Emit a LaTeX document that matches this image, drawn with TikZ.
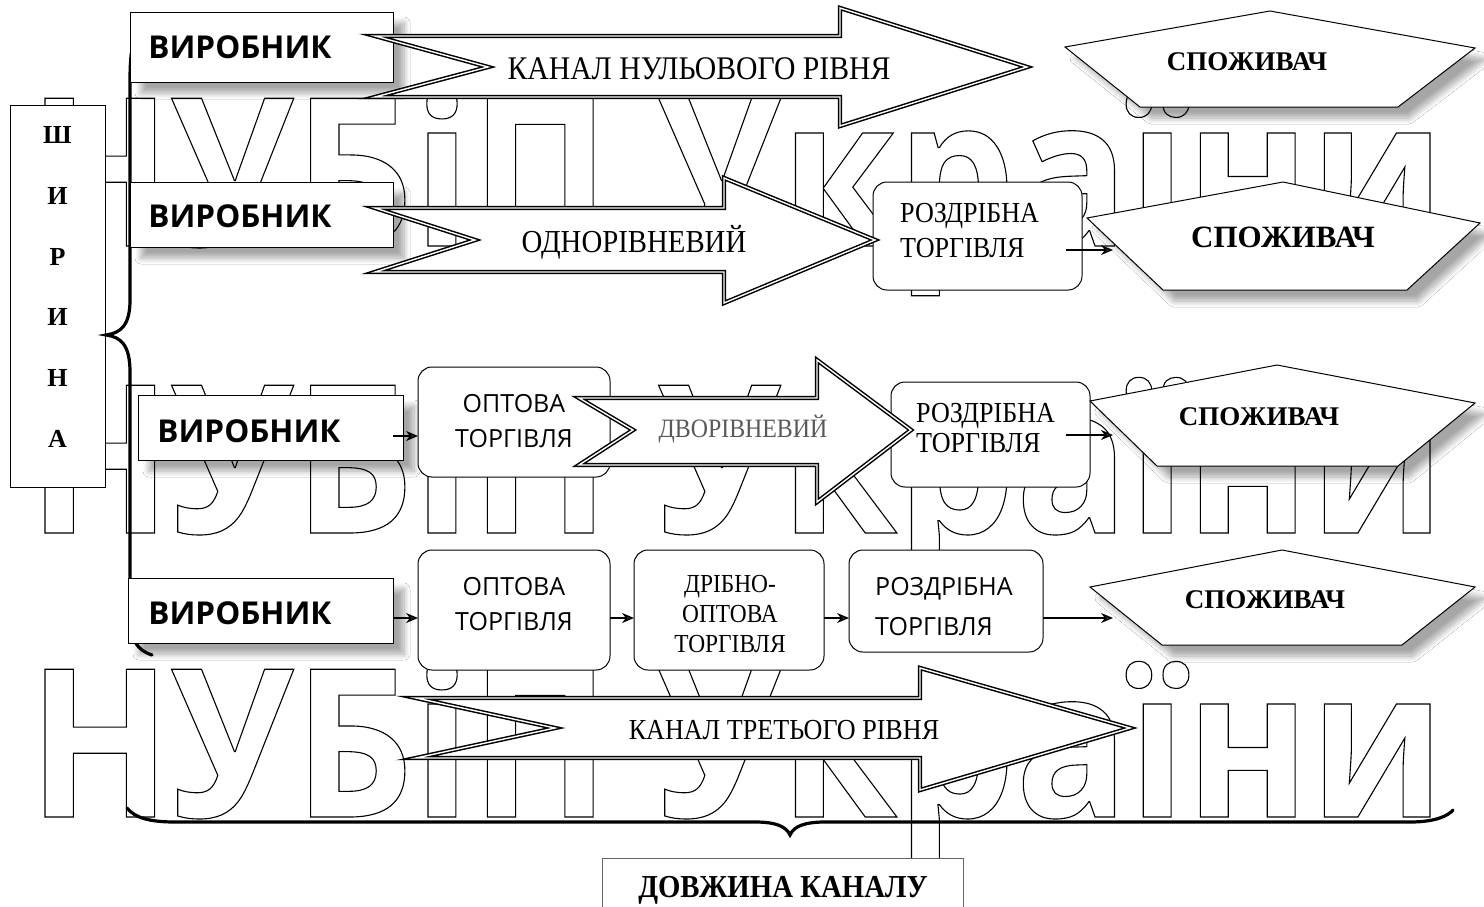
\documentclass[tikz,border=0pt]{standalone}
\usepackage{fontspec}
\setmainfont{Liberation Serif}
\newfontfamily\osans{Open Sans}
\newfontfamily\wmfont[FakeStretch=0.905]{Open Sans}
\newfontfamily\cser[FakeStretch=0.9]{Liberation Serif}
\usetikzlibrary{arrows.meta,shadows.blur}
\newcommand\fsz[1]{\fontsize{#1}{#1}\selectfont}
\newcommand\wmtext{\special{pdf:literal direct 1 Tr 1.1 w}НУБіП України\special{pdf:literal direct 0 Tr}}
\tikzset{
  sh/.style={blur shadow={shadow xshift=11pt, shadow yshift=-11pt, shadow blur radius=6pt, shadow blur steps=10, shadow opacity=35}},
  prod/.style={draw, fill=white, line width=1pt, inner sep=0pt, outer sep=0pt, sh},
  rbox/.style={draw, fill=white, line width=1pt, rounded corners=14pt, inner sep=0pt, outer sep=0pt},
  plainbox/.style={draw, fill=white, line width=1pt, inner sep=0pt, outer sep=0pt},
  pent/.style={draw, fill=white, line width=1pt, line join=miter, sh},
  barrow/.style={draw=black, fill=white, line width=1.5pt, double=white, double distance=1.4pt, line join=miter, miter limit=30},
  conn/.style={-{Stealth[length=12pt,width=10pt]}, line width=1.3pt},
  brace/.style={line width=3.2pt, line cap=round},
  txt/.style={inner sep=0pt, anchor=base},
  txl/.style={inner sep=0pt, anchor=base west},
  wm/.style={inner sep=0pt, anchor=base west, font=\wmfont\bfseries\fsz{207}},
  vtext/.style={txt, font=\osans\bfseries\fsz{31.5}},
  sertext/.style={txt, font=\cser\fsz{#1}},
  serl/.style={txl, font=\cser\fsz{#1}},
  sanstext/.style={txt, font=\osans\fsz{#1}},
  sansl/.style={txl, font=\osans\fsz{#1}},
  boldser/.style={txt, font=\bfseries\fsz{#1}},
}
\begin{document}
\begin{tikzpicture}[x=1pt, y=-1pt]
\useasboundingbox[fill=white] (0,0) rectangle (1484,906);

% watermark
\node[wm] (wm1) at (28,246) {\wmtext};
\node[wm] (wm2) at (28,533) {\wmtext};
\node[wm] (wm3) at (28,817) {\wmtext};

% width box
\node[plainbox, minimum width=95pt, minimum height=382pt] (shyr) at (57.5,296) {};
\foreach \l/\yy [count=\i] in {Ш/143, И/204, Р/265, И/325, Н/386, А/447}
  \node[boldser=26] (shl\i) at (57.5,\yy) {\l};

% left brace
\draw[brace] (152,20) .. controls (136,26) and (130,40) .. (130,80) -- (130,300)
  .. controls (130,325) and (121,333) .. (106,335) .. controls (121,337) and (130,345) .. (130,372)
  -- (130,615) .. controls (130,640) and (137,650) .. (152,655);

% producer boxes
\node[prod, minimum width=263pt, minimum height=70pt] (v1) at (261.5,47) {};
\node[prod, minimum width=263pt, minimum height=65pt] (v2) at (261.5,214.5) {};
\node[prod, minimum width=265pt, minimum height=65pt] (v3) at (270.5,427.5) {};
\node[prod, minimum width=265pt, minimum height=65pt] (v4) at (260.5,610.5) {};

% rounded boxes
\node[rbox, minimum width=209pt, minimum height=108pt] (r1) at (977.5,236) {};
\node[rbox, minimum width=192pt, minimum height=110pt] (o3) at (514,422) {};
\node[rbox, minimum width=199pt, minimum height=105pt] (r2) at (990.5,434.5) {};
\node[rbox, minimum width=192pt, minimum height=120pt] (o4) at (514,610) {};
\node[rbox, minimum width=190pt, minimum height=120pt] (d4) at (729,610) {};
\node[rbox, minimum width=194pt, minimum height=102pt] (r3) at (946,601) {};

% consumers (pentagons)
\draw[pent] (1270,11) coordinate (p1t) -- (1475,48) -- (1398,107) -- (1140,107) -- (1065,47) coordinate (p1l) -- cycle;
\draw[pent] (1283,182) coordinate (p2t) -- (1480,223) -- (1407,290) -- (1163,290) -- (1087,218) coordinate (p2l) -- cycle;
\draw[pent] (1277,365) coordinate (p3t) -- (1475,403) -- (1398,466) -- (1157,466) -- (1090,401) coordinate (p3l) -- cycle;
\draw[pent] (1282,550) coordinate (p4t) -- (1475,587) -- (1402,645) -- (1162,645) -- (1090,587) coordinate (p4l) -- cycle;

% block arrows
\draw[barrow] (375,36) -- (840,36) -- (840,8) -- (1027,67) -- (840,126) -- (840,97) -- (375,97) -- (488,67) -- cycle;
\draw[barrow] (375,208) -- (724,208) -- (724,178) -- (875,240) -- (724,303) -- (724,272) -- (375,272) -- (475,240) -- cycle;
\draw[barrow] (579,398) -- (817,398) -- (817,360) -- (911,430) -- (817,502) -- (817,465) -- (579,465) -- (633,430) -- cycle;
\draw[barrow] (416,698) -- (920,698) -- (920,668) -- (1130,728) -- (920,790) -- (920,758) -- (416,758) -- (555,728) -- cycle;

% connectors
\coordinate (c1) at (1066,250);
\coordinate (p2a) at (1113,250);
\coordinate (c2) at (1066,435);
\coordinate (p3a) at (1113,435);
\coordinate (p4a) at (1113,618);
\draw[conn] (c1) -- (p2a);
\draw[conn] (c2) -- (p3a);
\draw[conn] ([xshift=-10pt,yshift=-8.5pt]v3.east) -- ([yshift=-14pt]o3.west);
\draw[conn] ([yshift=-7.5pt]v4.east) -- ([yshift=-8pt]o4.west);
\draw[conn] ([yshift=-8pt]o4.east) -- ([yshift=-8pt]d4.west);
\draw[conn] ([yshift=-8pt]d4.east) -- ([yshift=-17pt]r3.west);
\draw[conn] ([yshift=-17pt]r3.east) -- (p4a);

% texts
\node[vtext] (tv1) at (240,58.5) {ВИРОБНИК};
\node[vtext] (tv2) at (240,227.5) {ВИРОБНИК};
\node[vtext] (tv3) at (249,442.5) {ВИРОБНИК};
\node[vtext] (tv4) at (240,624.5) {ВИРОБНИК};

\node[sertext=33] (ta1) at (699,79) {КАНАЛ НУЛЬОВОГО РІВНЯ};
\node[sertext=32] (ta2) at (634,252) {ОДНОРІВНЕВИЙ};
\node[sertext=26.5, text=black!65] (ta3) at (743,437) {ДВОРІВНЕВИЙ};
\node[sertext=29] (ta4) at (784,739) {КАНАЛ ТРЕТЬОГО РІВНЯ};

\node[serl=29] (tr1a) at (900,222) {РОЗДРІБНА};
\node[serl=29] (tr1b) at (900,257) {ТОРГІВЛЯ};
\node[serl=29] (tr2a) at (916,422) {РОЗДРІБНА};
\node[serl=29] (tr2b) at (916,452) {ТОРГІВЛЯ};

\node[sanstext=25] (to3a) at (514,412) {ОПТОВА};
\node[sanstext=25] (to3b) at (514,447) {ТОРГІВЛЯ};
\node[sanstext=25] (to4a) at (514,595) {ОПТОВА};
\node[sanstext=25] (to4b) at (514,630) {ТОРГІВЛЯ};

\node[sertext=26] (td1) at (730,592) {ДРІБНО-};
\node[sertext=26] (td2) at (730,622) {ОПТОВА};
\node[sertext=26] (td3) at (730,652) {ТОРГІВЛЯ};

\node[sansl=25] (tr3a) at (875,595) {РОЗДРІБНА};
\node[sansl=25] (tr3b) at (875,635) {ТОРГІВЛЯ};

\node[boldser=27] (ts1) at (1247,70) {СПОЖИВАЧ};
\node[boldser=31] (ts2) at (1283,247) {СПОЖИВАЧ};
\node[boldser=27] (ts3) at (1259,425) {СПОЖИВАЧ};
\node[boldser=27] (ts4) at (1265,608) {СПОЖИВАЧ};

% bottom brace
\draw[brace] (127,808) .. controls (135,818) and (150,822) .. (175,822) -- (755,822)
  .. controls (775,822) and (786,826) .. (790,835) .. controls (794,826) and (805,822) .. (825,822)
  -- (1410,822) .. controls (1435,822) and (1448,816) .. (1453,810);

% length box
\node[draw=black!60, fill=white, line width=0.8pt, inner sep=0pt, minimum width=361pt, minimum height=72pt] (dl) at (782.5,894) {};
\node[txt, font=\cser\bfseries\fsz{32}] (tdl) at (783,897) {ДОВЖИНА КАНАЛУ};
\end{tikzpicture}
\end{document}
